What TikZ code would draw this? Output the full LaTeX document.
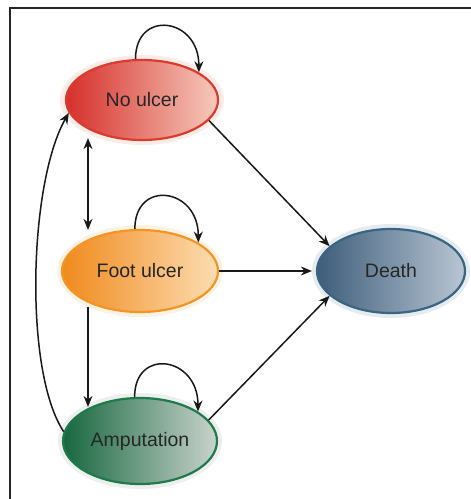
\documentclass[tikz,border=0pt]{standalone}
\usepackage{fontspec}
\setmainfont{Liberation Sans}
\usetikzlibrary{shapes.geometric,arrows.meta,calc}
\definecolor{nuL}{HTML}{D5302A}
\definecolor{nuR}{HTML}{F7C9BC}
\definecolor{nuB}{HTML}{DC3A2E}
\definecolor{fuL}{HTML}{F08A1C}
\definecolor{fuR}{HTML}{FCDDB2}
\definecolor{fuB}{HTML}{F39425}
\definecolor{deL}{HTML}{3E5D7A}
\definecolor{deR}{HTML}{B9C6D4}
\definecolor{deB}{HTML}{386581}
\definecolor{amL}{HTML}{17673F}
\definecolor{amR}{HTML}{C9D3CC}
\definecolor{amB}{HTML}{1E7A4B}
\definecolor{txt}{HTML}{262626}
\begin{document}
\begin{tikzpicture}[x=1pt,y=-1pt,
  state/.style={ellipse,inner sep=0pt,line width=2.2pt,font=\fontsize{19.5}{21}\selectfont,text=txt},
  glow/.style={ellipse,inner sep=0pt,draw=none,opacity=0.35},
  conn/.style={line width=1.5pt,draw=black!90,-{Stealth[length=11pt,width=9pt]}},
  dconn/.style={line width=1.5pt,draw=black!90,{Stealth[length=11pt,width=9pt]}-{Stealth[length=11pt,width=9pt]}}]
\useasboundingbox (0,0) rectangle (471,499);
\fill[white] (0,0) rectangle (471,499);
\draw[line width=1.6pt,draw=black!85] (10,499) -- (10,8) -- (471,8);
% glows
\node[glow,fill=nuR,minimum width=164pt,minimum height=90pt] (gnu) at (142,100) {};
\node[glow,fill=fuR,minimum width=166pt,minimum height=92pt] (gfu) at (140,271) {};
\node[glow,fill=deR,minimum width=158pt,minimum height=94pt] (gde) at (391,271) {};
\node[glow,fill=amR,minimum width=164pt,minimum height=96pt] (gam) at (140,441) {};
% states
\node[state,left color=nuL,right color=nuR,draw=nuB,minimum width=152pt,minimum height=80pt] (nu) at (142,100) {No ulcer};
\node[state,left color=fuL,right color=fuR,draw=fuB,minimum width=156pt,minimum height=82pt] (fu) at (140,271) {Foot ulcer};
\node[state,left color=deL,right color=deR,draw=deB,minimum width=148pt,minimum height=84pt] (de) at (391,271) {Death};
\node[state,left color=amL,right color=amR,draw=amB,minimum width=154pt,minimum height=86pt] (am) at (140,441) {Amputation};
% self loops
\draw[conn] (nu.99) .. controls +(0,-50) and +(0,-55) .. (nu.26);
\draw[conn] (fu.97) .. controls +(0,-50) and +(0,-55) .. (fu.26);
\draw[conn] (am.97) .. controls +(0,-50) and +(0,-55) .. (am.27);
% vertical links
\coordinate (lx) at (88,0);
\coordinate (v1) at ($(nu.south -| lx)+(0,-3)$);
\coordinate (v2) at ($(fu.north -| lx)+(0,1)$);
\coordinate (v3) at ($(fu.south -| lx)+(0,-6)$);
\coordinate (v4) at ($(am.north -| lx)+(0,10)$);
\draw[dconn] (v1) -- (v2);
\draw[conn] (v3) -- (v4);
% return curve
\draw[conn] (am.173) .. controls +(-40,-60) and +(-40,70) .. (nu.190);
% to death
\draw[conn] (nu.-17) -- (de.158);
\draw[conn] (fu.east) -- ($(de.west)+(-4,0)$);
\draw[conn] (am.17) -- (de.202);
\end{tikzpicture}
\end{document}
